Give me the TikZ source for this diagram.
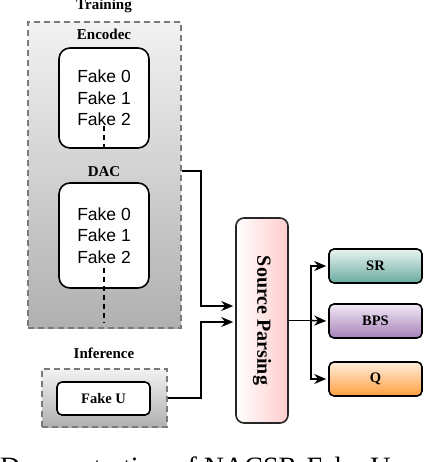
\documentclass[tikz,border=0pt]{standalone}
\usepackage{fontspec}
\setmainfont{Liberation Serif}
\newfontfamily\arialf{Liberation Sans}
\usetikzlibrary{arrows.meta,calc}
\definecolor{grtop}{HTML}{F2F2F2}
\definecolor{grbot}{HTML}{B0B0B0}
\definecolor{dashgray}{HTML}{7A7A7A}
\definecolor{sptop}{HTML}{FFFFFF}
\definecolor{spbot}{HTML}{FFCCCC}
\definecolor{srtop}{HTML}{EAF4F1}
\definecolor{srbot}{HTML}{67AB9F}
\definecolor{bptop}{HTML}{F2EAF6}
\definecolor{bpbot}{HTML}{A680B8}
\definecolor{qtop}{HTML}{FFEEDD}
\definecolor{qbot}{HTML}{FF9F3F}
\tikzset{
  groupbox/.style={draw=dashgray, line width=1.5pt, dash pattern=on 6pt off 4pt,
    top color=grtop, bottom color=grbot, inner sep=0pt},
  fakebox/.style={draw=black, line width=1.6pt, fill=white, rounded corners=11pt,
    align=center, inner sep=0pt, font=\arialf\fontsize{17.5}{21.5}\selectfont},
  smallbox/.style={draw=black, line width=1.6pt, rounded corners=5pt, inner sep=0pt,
    font=\bfseries\fontsize{14.5}{16}\selectfont},
  title/.style={font=\bfseries\fontsize{15}{17}\selectfont, anchor=base, inner sep=0pt},
  conn/.style={line width=1.6pt, -{Stealth[length=12pt,width=10pt]}, shorten >=2pt},
  plain/.style={line width=1.6pt},
  dline/.style={line width=1.3pt, dash pattern=on 5pt off 4pt},
}
\begin{document}
\begin{tikzpicture}[x=1pt,y=-1pt]
\clip (0,0) rectangle (424,462);
\fill[white] (0,0) rectangle (424,462);
% groups
\node[groupbox, minimum width=153pt, minimum height=306pt] (train) at (104.5,175) {};
\node[groupbox, minimum width=125pt, minimum height=58pt] (inf) at (104.5,398) {};
% titles
\node[title] (ttrain) at (104,10) {Training};
\node[title] (tenc) at (104,40) {Encodec};
\node[title] (tdac) at (104,176) {DAC};
\node[title] (tinf) at (104,358) {Inference};
% inner boxes
\node[fakebox, minimum width=90pt, minimum height=100pt] (enc) at (104,98) {Fake 0\\Fake 1\\Fake 2};
\node[fakebox, minimum width=90pt, minimum height=105pt] (dac) at (104,235.5) {Fake 0\\Fake 1\\Fake 2};
\draw[dline] ([yshift=23pt]enc.south) -- (enc.south);
\draw[dline] ([yshift=21pt]dac.south) -- ([yshift=-34pt]dac.south);
\node[smallbox, fill=white, minimum width=93pt, minimum height=33pt] (fakeu) at (103.5,398.5) {Fake U};
% source parsing
\node[draw=black!85, line width=1.6pt, rounded corners=8pt, left color=sptop, right color=spbot,
  minimum width=52pt, minimum height=205pt, inner sep=0pt] (sp) at (262,320.5) {};
\node[rotate=-90, font=\bfseries\fontsize{20}{22}\selectfont, inner sep=0pt] (sptext) at (sp.center) {Source Parsing};
% outputs
\node[smallbox, top color=srtop, bottom color=srbot, minimum width=93pt, minimum height=34pt] (sr) at (375.5,266) {SR};
\node[smallbox, top color=bptop, bottom color=bpbot, minimum width=93pt, minimum height=34pt] (bps) at (375.5,321) {BPS};
\node[smallbox, top color=qtop, bottom color=qbot, minimum width=93pt, minimum height=34pt] (q) at (375.5,379) {Q};
% connectors
\draw[conn] ([yshift=4pt]train.east) -- ++(19,0) |- ([yshift=14.5pt]sp.west);
\draw[conn] (inf.east) -- ++(33,0) |- ([yshift=-1.5pt]sp.west);
\draw[plain] (sp.east) -- ++(22,0) coordinate (br);
\draw[conn] (br) |- (sr.west);
\draw[conn] (br) -- (bps.west);
\draw[conn] (br) |- (q.west);
% caption (cut off by the lower edge)
\node[anchor=base west, inner sep=0pt, font=\fontsize{28}{32}\selectfont] (cap) at (0,476.5) {Demonstration of NACSR-Fake-U};
\end{tikzpicture}
\end{document}
